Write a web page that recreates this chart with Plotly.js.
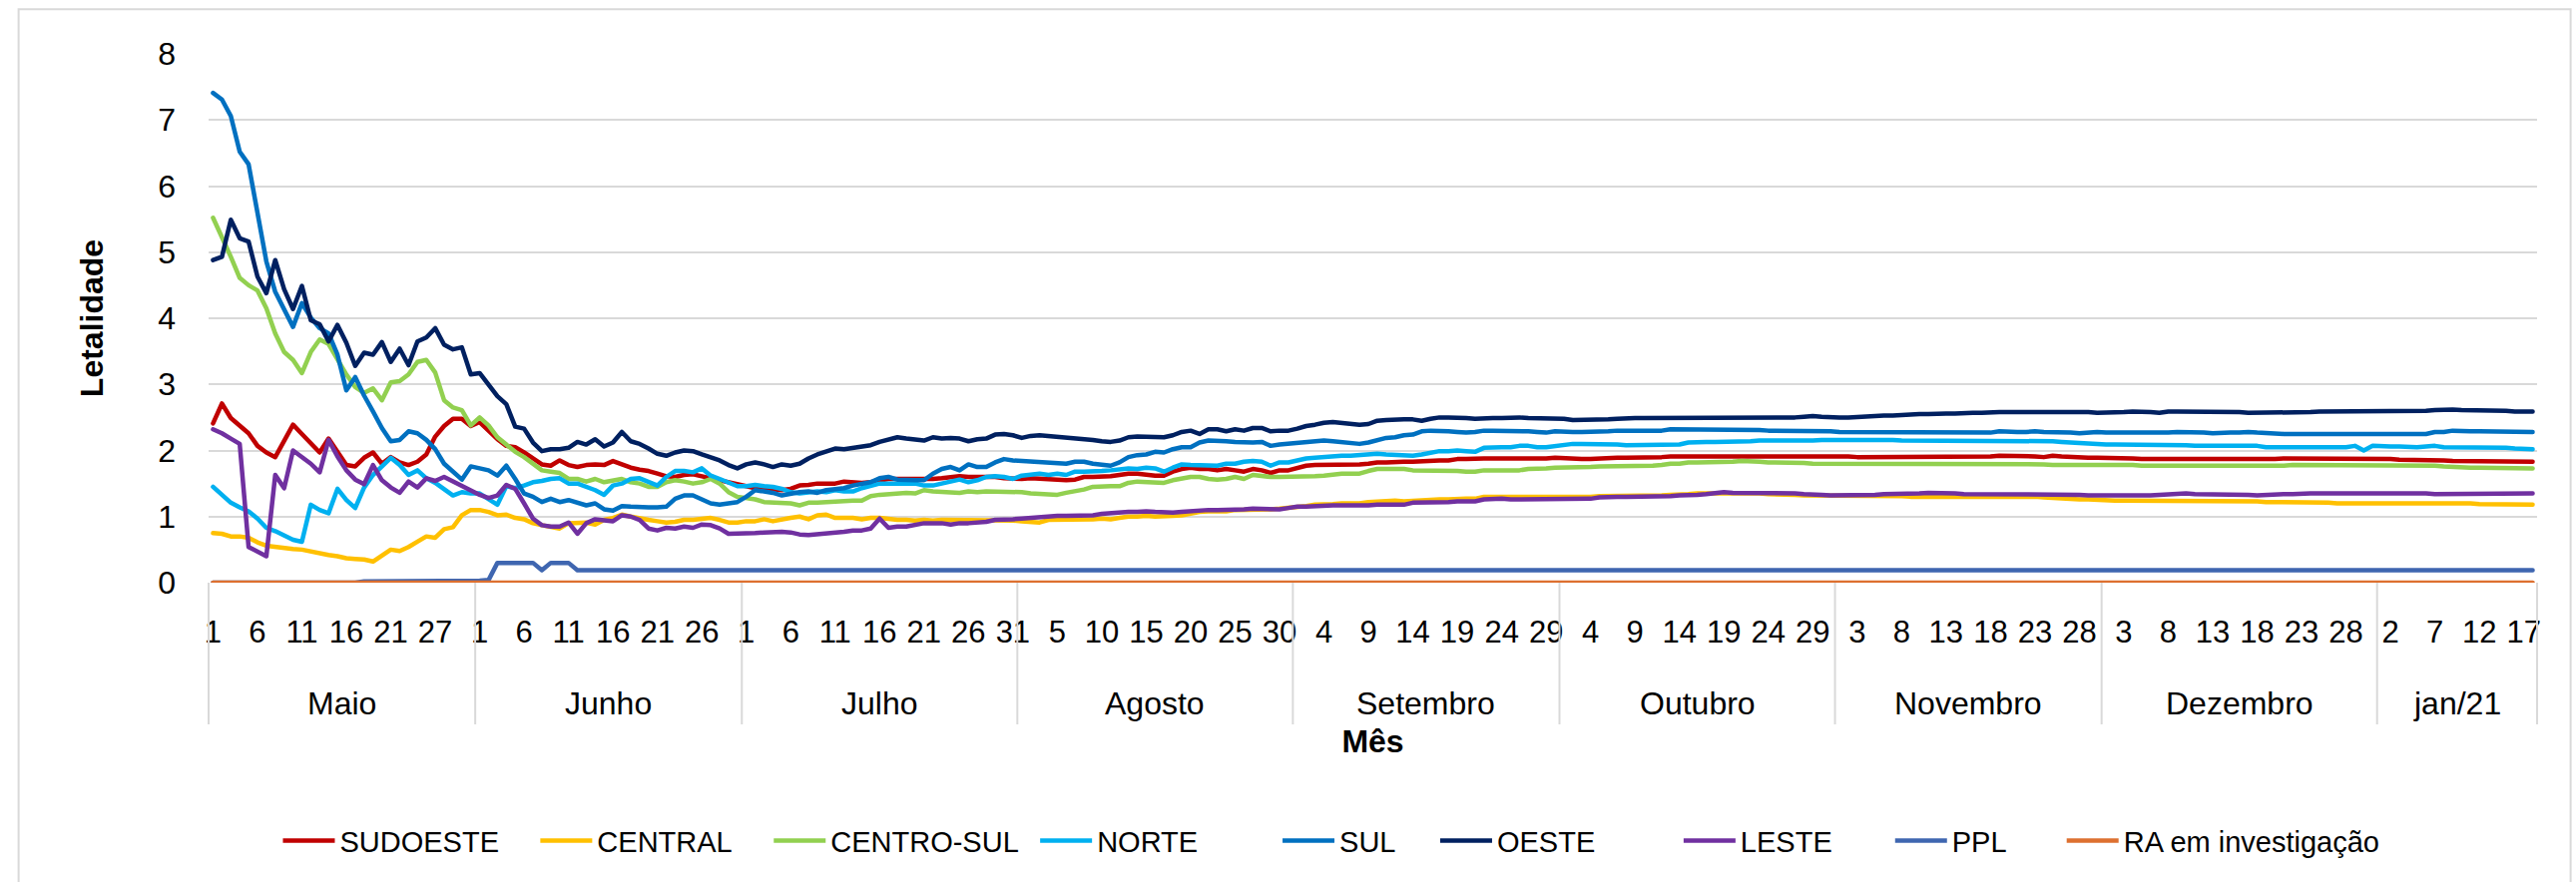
<!DOCTYPE html>
<html><head><meta charset="utf-8">
<script src="https://cdn.plot.ly/plotly-3.0.1.min.js"></script>
<style>
html,body{margin:0;padding:0;background:#fff;}
#chart{width:2581px;height:884px;}
.scatterlayer .js-line{stroke-linejoin:round;stroke-linecap:round;}
</style></head><body><div id="chart"></div>
<script>
// ---- categories ----
const monthNames = ['Maio','Junho','Julho','Agosto','Setembro','Outubro','Novembro','Dezembro','jan/21'];
const daysMaio = [1,2,3,4,5,6,7,8,9,10,11,12,13,14,15,16,17,18,19,20,21,22,23,25,26,27,28,29,30,31];
const daysJunho = [1,2,3,4,5,6,7,8,9,10,11,12,13,14,15,16,17,18,19,20,21,22,23,24,25,26,27,28,29,30];
const daysJulho = [1,2,3,4,5,6,7,8,9,10,11,12,13,14,15,16,17,18,19,20,21,22,23,24,25,26,27,28,29,30,31];
const daysAgosto = [1,2,3,4,5,6,7,8,9,10,11,12,13,14,15,16,17,18,19,20,21,22,23,24,25,26,27,28,29,30,31];
const daysSetembro = [1,2,3,4,5,6,7,8,9,10,11,12,13,14,15,16,17,18,19,20,21,22,23,24,25,26,27,28,29,30];
const daysOutubro = [1,2,3,4,5,6,7,8,9,10,11,12,13,14,15,16,17,18,19,20,21,22,23,24,25,26,27,28,29,30,31];
const daysNovembro = [1,2,3,4,5,6,7,8,9,10,11,12,13,14,15,16,17,18,19,20,21,22,23,24,25,26,27,28,29,30];
const daysDezembro = [1,2,3,4,5,6,7,8,9,10,11,12,13,14,15,16,17,18,19,20,21,22,23,24,25,26,27,28,29,30,31];
const daysJan = [1,2,3,4,5,6,7,8,9,10,11,12,13,14,15,16,17,18];
const monthDays = [daysMaio,daysJunho,daysJulho,daysAgosto,daysSetembro,daysOutubro,daysNovembro,daysDezembro,daysJan];

// ---- series (Letalidade, one value per day) ----
const sudoeste = [
2.41,2.71,2.49,2.37,2.26,2.07,1.97,1.90,2.16,2.39,2.25,2.10,1.97,2.18,1.97,1.78,1.76,1.89,1.97,1.80,1.90,1.82,1.78,1.83,1.94,2.21,2.37,2.48,2.48,2.37,
2.43,2.30,2.17,2.07,2.05,1.97,1.88,1.79,1.77,1.85,1.78,1.75,1.78,1.79,1.78,1.84,1.79,1.74,1.71,1.69,1.65,1.61,1.60,1.63,1.64,1.61,1.58,1.55,1.52,1.48,
1.45,1.43,1.43,1.42,1.40,1.42,1.47,1.48,1.50,1.50,1.50,1.53,1.52,1.51,1.52,1.55,1.57,1.57,1.57,1.56,1.56,1.57,1.58,1.60,1.61,1.60,1.60,1.61,1.60,1.58,1.57,
1.57,1.58,1.57,1.56,1.55,1.55,1.56,1.60,1.60,1.60,1.61,1.63,1.65,1.65,1.63,1.62,1.62,1.68,1.72,1.74,1.72,1.72,1.70,1.72,1.70,1.68,1.72,1.70,1.66,1.70,1.70,
1.74,1.77,1.78,1.78,1.79,1.79,1.79,1.79,1.80,1.82,1.82,1.83,1.83,1.83,1.84,1.85,1.85,1.85,1.87,1.87,1.88,1.88,1.88,1.88,1.87,1.87,1.87,1.87,1.88,1.89,
1.88,1.88,1.87,1.87,1.88,1.88,1.89,1.89,1.89,1.89,1.90,1.90,1.91,1.91,1.91,1.91,1.91,1.91,1.91,1.91,1.91,1.91,1.92,1.92,1.92,1.92,1.92,1.92,1.92,1.92,1.92,
1.91,1.91,1.90,1.90,1.90,1.91,1.91,1.91,1.91,1.91,1.91,1.91,1.91,1.91,1.91,1.91,1.91,1.91,1.92,1.92,1.91,1.91,1.91,1.90,1.92,1.91,1.90,1.89,1.89,1.89,
1.89,1.88,1.88,1.88,1.87,1.87,1.87,1.87,1.87,1.87,1.87,1.87,1.87,1.87,1.86,1.87,1.87,1.87,1.87,1.87,1.88,1.88,1.88,1.88,1.88,1.88,1.88,1.87,1.87,1.87,1.87,
1.87,1.87,1.86,1.86,1.86,1.85,1.85,1.85,1.84,1.84,1.84,1.83,1.83,1.83,1.83,1.83,1.83,1.83];
const central = [
0.75,0.74,0.70,0.70,0.68,0.61,0.56,0.54,0.52,0.51,0.50,0.47,0.45,0.42,0.40,0.37,0.36,0.35,0.32,0.41,0.50,0.48,0.54,0.62,0.70,0.68,0.81,0.84,1.02,1.10,
1.10,1.07,1.02,1.03,0.98,0.96,0.90,0.87,0.85,0.82,0.90,0.91,0.91,0.88,0.95,0.98,1.03,1.00,0.97,0.95,0.93,0.91,0.92,0.95,0.95,0.96,0.98,0.95,0.91,0.91,
0.93,0.93,0.96,0.93,0.96,0.98,1.00,0.96,1.02,1.03,0.98,0.98,0.98,0.96,0.98,0.98,0.96,0.95,0.95,0.94,0.95,0.94,0.95,0.95,0.94,0.95,0.95,0.95,0.95,0.95,0.94,
0.93,0.92,0.91,0.95,0.95,0.95,0.95,0.95,0.96,0.97,0.96,0.98,1.00,1.00,1.01,1.00,1.00,1.01,1.02,1.05,1.07,1.08,1.08,1.08,1.10,1.10,1.11,1.11,1.11,1.12,1.13,
1.15,1.16,1.18,1.18,1.19,1.20,1.20,1.20,1.22,1.23,1.24,1.24,1.23,1.24,1.25,1.26,1.26,1.26,1.27,1.27,1.27,1.30,1.30,1.30,1.30,1.30,1.29,1.29,1.29,1.30,
1.30,1.30,1.30,1.30,1.31,1.31,1.31,1.31,1.31,1.31,1.32,1.32,1.33,1.33,1.34,1.35,1.35,1.36,1.36,1.35,1.35,1.35,1.35,1.34,1.34,1.33,1.33,1.32,1.32,1.31,1.31,
1.31,1.31,1.31,1.31,1.31,1.31,1.31,1.31,1.30,1.30,1.30,1.30,1.31,1.31,1.31,1.31,1.31,1.31,1.31,1.30,1.30,1.30,1.30,1.29,1.28,1.28,1.27,1.26,1.26,1.25,
1.25,1.24,1.24,1.24,1.24,1.23,1.23,1.23,1.23,1.24,1.24,1.23,1.23,1.23,1.23,1.23,1.23,1.23,1.22,1.22,1.22,1.22,1.21,1.21,1.21,1.21,1.20,1.20,1.20,1.20,1.21,
1.21,1.21,1.21,1.21,1.21,1.21,1.21,1.21,1.21,1.20,1.20,1.19,1.19,1.19,1.19,1.18,1.18,1.18];
const centroSul = [
5.52,5.23,4.93,4.61,4.50,4.42,4.15,3.77,3.49,3.37,3.17,3.49,3.68,3.61,3.37,3.15,2.96,2.87,2.94,2.76,3.03,3.05,3.15,3.34,3.37,3.18,2.76,2.65,2.61,2.38,
2.50,2.38,2.20,2.08,1.98,1.90,1.80,1.70,1.68,1.66,1.57,1.57,1.53,1.57,1.52,1.55,1.57,1.52,1.50,1.45,1.45,1.52,1.55,1.53,1.50,1.52,1.57,1.50,1.37,1.30,
1.28,1.26,1.22,1.21,1.21,1.20,1.17,1.21,1.21,1.22,1.23,1.24,1.24,1.24,1.31,1.33,1.34,1.35,1.36,1.35,1.40,1.38,1.37,1.37,1.36,1.38,1.37,1.38,1.38,1.37,1.38,
1.37,1.35,1.34,1.34,1.33,1.36,1.38,1.41,1.45,1.46,1.46,1.46,1.51,1.53,1.52,1.51,1.51,1.55,1.58,1.60,1.60,1.57,1.56,1.57,1.60,1.57,1.63,1.61,1.60,1.60,1.60,
1.61,1.61,1.61,1.62,1.64,1.65,1.65,1.65,1.69,1.72,1.72,1.72,1.72,1.70,1.70,1.70,1.70,1.70,1.69,1.68,1.68,1.70,1.70,1.70,1.70,1.70,1.72,1.72,1.73,1.74,
1.74,1.74,1.75,1.75,1.76,1.76,1.77,1.77,1.77,1.77,1.77,1.78,1.80,1.80,1.82,1.82,1.82,1.82,1.83,1.83,1.84,1.84,1.83,1.82,1.82,1.81,1.81,1.81,1.80,1.80,1.80,
1.80,1.80,1.80,1.80,1.79,1.79,1.79,1.79,1.79,1.79,1.79,1.79,1.79,1.79,1.79,1.79,1.79,1.79,1.80,1.80,1.79,1.79,1.79,1.79,1.78,1.78,1.79,1.79,1.78,1.78,
1.78,1.78,1.78,1.78,1.77,1.77,1.77,1.77,1.76,1.76,1.76,1.76,1.76,1.76,1.76,1.76,1.76,1.76,1.77,1.77,1.77,1.78,1.78,1.78,1.78,1.78,1.78,1.78,1.78,1.78,1.78,
1.78,1.78,1.78,1.78,1.78,1.78,1.77,1.76,1.75,1.75,1.74,1.74,1.74,1.73,1.73,1.73,1.73,1.73];
const norte = [
1.45,1.32,1.21,1.14,1.08,0.97,0.83,0.78,0.72,0.65,0.62,1.18,1.10,1.05,1.42,1.25,1.13,1.44,1.63,1.75,1.89,1.78,1.63,1.70,1.58,1.51,1.42,1.32,1.37,1.35,
1.35,1.27,1.18,1.46,1.43,1.47,1.52,1.54,1.57,1.58,1.50,1.50,1.45,1.40,1.33,1.47,1.50,1.57,1.58,1.52,1.47,1.60,1.69,1.69,1.67,1.73,1.62,1.57,1.52,1.46,
1.46,1.48,1.46,1.45,1.42,1.37,1.35,1.37,1.38,1.37,1.40,1.38,1.38,1.43,1.46,1.50,1.50,1.50,1.51,1.50,1.47,1.47,1.50,1.53,1.56,1.52,1.55,1.60,1.61,1.60,1.57,
1.62,1.63,1.65,1.63,1.65,1.63,1.68,1.68,1.68,1.69,1.70,1.72,1.73,1.72,1.74,1.73,1.68,1.74,1.79,1.78,1.78,1.77,1.77,1.80,1.80,1.83,1.84,1.83,1.77,1.82,1.82,
1.85,1.88,1.89,1.90,1.92,1.92,1.92,1.93,1.94,1.95,1.94,1.93,1.92,1.92,1.94,1.97,1.99,1.99,2.00,1.99,1.98,2.04,2.05,2.05,2.05,2.07,2.07,2.05,2.05,2.07,
2.08,2.10,2.10,2.10,2.10,2.10,2.09,2.08,2.08,2.08,2.08,2.08,2.08,2.09,2.12,2.13,2.13,2.13,2.13,2.14,2.14,2.14,2.15,2.15,2.14,2.15,2.15,2.15,2.15,2.16,2.16,
2.16,2.17,2.17,2.17,2.17,2.17,2.16,2.15,2.15,2.15,2.15,2.15,2.15,2.15,2.15,2.14,2.14,2.14,2.14,2.14,2.14,2.14,2.14,2.15,2.14,2.13,2.12,2.11,2.10,2.10,
2.09,2.09,2.09,2.09,2.09,2.09,2.08,2.08,2.08,2.08,2.07,2.07,2.08,2.08,2.08,2.08,2.07,2.07,2.05,2.05,2.04,2.04,2.04,2.04,2.04,2.04,2.04,2.05,2.07,2.00,2.07,
2.06,2.06,2.06,2.05,2.05,2.06,2.07,2.05,2.05,2.04,2.04,2.05,2.05,2.04,2.04,2.03,2.03,2.02];
const sul = [
7.41,7.31,7.06,6.52,6.33,5.60,4.86,4.40,4.13,3.87,4.23,4.01,3.85,3.77,3.45,2.91,3.11,2.83,2.59,2.34,2.14,2.16,2.29,2.26,2.16,2.02,1.80,1.69,1.56,1.76,
1.73,1.70,1.62,1.77,1.57,1.35,1.30,1.22,1.27,1.22,1.25,1.21,1.17,1.20,1.11,1.09,1.16,1.15,1.14,1.14,1.14,1.15,1.27,1.32,1.32,1.26,1.20,1.18,1.20,1.22,
1.30,1.40,1.38,1.36,1.32,1.35,1.37,1.38,1.36,1.40,1.42,1.43,1.47,1.50,1.52,1.58,1.60,1.56,1.55,1.55,1.55,1.65,1.72,1.75,1.70,1.79,1.75,1.75,1.82,1.87,1.85,
1.84,1.84,1.83,1.82,1.80,1.80,1.83,1.83,1.80,1.79,1.77,1.82,1.90,1.93,1.94,1.98,1.97,2.02,2.05,2.05,2.12,2.15,2.15,2.14,2.13,2.12,2.12,2.13,2.07,2.09,2.10,
2.12,2.13,2.14,2.15,2.14,2.13,2.12,2.10,2.12,2.15,2.19,2.20,2.23,2.24,2.29,2.30,2.30,2.29,2.28,2.27,2.28,2.30,2.30,2.30,2.30,2.30,2.29,2.28,2.27,2.29,
2.28,2.28,2.28,2.28,2.29,2.29,2.30,2.30,2.30,2.30,2.30,2.30,2.32,2.32,2.32,2.32,2.32,2.32,2.32,2.32,2.32,2.32,2.31,2.30,2.30,2.30,2.30,2.30,2.30,2.30,2.29,
2.28,2.28,2.28,2.28,2.28,2.28,2.28,2.28,2.28,2.28,2.28,2.28,2.28,2.28,2.28,2.27,2.27,2.27,2.29,2.28,2.28,2.28,2.29,2.28,2.28,2.28,2.27,2.26,2.27,2.28,
2.27,2.27,2.26,2.26,2.26,2.26,2.27,2.27,2.28,2.28,2.28,2.27,2.26,2.27,2.27,2.27,2.28,2.27,2.26,2.26,2.25,2.25,2.25,2.25,2.25,2.25,2.25,2.25,2.25,2.25,2.24,
2.24,2.24,2.24,2.24,2.24,2.25,2.28,2.28,2.30,2.29,2.29,2.29,2.29,2.29,2.29,2.29,2.29,2.28];
const oeste = [
4.88,4.93,5.49,5.21,5.16,4.63,4.38,4.88,4.44,4.14,4.49,3.97,3.91,3.65,3.90,3.63,3.28,3.48,3.45,3.64,3.34,3.54,3.29,3.65,3.71,3.85,3.60,3.53,3.56,3.15,
3.17,2.99,2.82,2.70,2.36,2.33,2.12,1.99,2.02,2.02,2.04,2.13,2.09,2.17,2.06,2.12,2.28,2.14,2.10,2.03,1.95,1.92,1.97,2.00,1.99,1.94,1.90,1.85,1.78,1.73,
1.79,1.82,1.79,1.75,1.79,1.77,1.80,1.88,1.94,1.99,2.03,2.02,2.04,2.07,2.08,2.13,2.17,2.20,2.18,2.17,2.15,2.20,2.18,2.19,2.18,2.14,2.17,2.18,2.24,2.25,2.23,
2.19,2.22,2.23,2.22,2.20,2.19,2.19,2.18,2.16,2.14,2.13,2.15,2.20,2.21,2.21,2.21,2.20,2.23,2.28,2.30,2.25,2.32,2.32,2.29,2.32,2.30,2.34,2.34,2.29,2.30,2.30,
2.33,2.37,2.39,2.42,2.43,2.42,2.40,2.39,2.40,2.45,2.46,2.47,2.47,2.47,2.45,2.48,2.50,2.50,2.50,2.49,2.48,2.49,2.49,2.49,2.50,2.50,2.49,2.49,2.49,2.48,
2.48,2.46,2.46,2.46,2.47,2.47,2.48,2.49,2.49,2.49,2.49,2.49,2.49,2.49,2.49,2.49,2.49,2.49,2.49,2.49,2.50,2.50,2.50,2.50,2.50,2.50,2.50,2.51,2.52,2.51,2.50,
2.50,2.50,2.51,2.52,2.52,2.53,2.53,2.54,2.54,2.55,2.55,2.56,2.56,2.56,2.57,2.57,2.57,2.58,2.58,2.58,2.58,2.58,2.58,2.58,2.59,2.59,2.59,2.58,2.58,2.57,
2.57,2.58,2.58,2.59,2.59,2.58,2.57,2.59,2.59,2.59,2.59,2.59,2.59,2.59,2.59,2.58,2.57,2.57,2.57,2.57,2.57,2.57,2.58,2.58,2.59,2.59,2.59,2.59,2.59,2.60,2.60,
2.60,2.60,2.60,2.59,2.60,2.60,2.61,2.62,2.62,2.61,2.61,2.61,2.61,2.60,2.60,2.59,2.59,2.59];
const leste = [
2.32,2.26,2.18,2.10,0.54,0.47,0.40,1.63,1.43,2.00,1.91,1.80,1.67,2.16,1.91,1.70,1.56,1.49,1.78,1.55,1.44,1.36,1.53,1.44,1.58,1.54,1.60,1.53,1.47,1.39,
1.33,1.28,1.32,1.48,1.42,1.20,0.97,0.87,0.85,0.85,0.91,0.74,0.90,0.96,0.95,0.93,1.02,1.00,0.95,0.82,0.79,0.83,0.82,0.85,0.83,0.88,0.87,0.82,0.74,0.74,
0.75,0.75,0.76,0.77,0.77,0.76,0.73,0.72,0.73,0.74,0.75,0.77,0.79,0.79,0.82,0.97,0.83,0.85,0.85,0.87,0.90,0.90,0.90,0.88,0.90,0.90,0.91,0.92,0.95,0.95,0.96,
0.97,0.98,1.00,1.00,1.01,1.01,1.01,1.01,1.02,1.04,1.05,1.07,1.07,1.07,1.08,1.07,1.06,1.06,1.07,1.08,1.10,1.10,1.10,1.10,1.10,1.11,1.12,1.12,1.11,1.11,1.13,
1.15,1.15,1.16,1.17,1.17,1.17,1.17,1.16,1.17,1.18,1.18,1.18,1.18,1.21,1.21,1.22,1.22,1.22,1.23,1.23,1.23,1.26,1.27,1.27,1.26,1.26,1.26,1.26,1.26,1.26,
1.26,1.27,1.27,1.27,1.29,1.30,1.30,1.30,1.30,1.30,1.31,1.31,1.31,1.32,1.32,1.33,1.34,1.36,1.37,1.36,1.36,1.35,1.35,1.35,1.35,1.35,1.35,1.34,1.34,1.33,1.32,
1.32,1.32,1.33,1.33,1.33,1.34,1.34,1.34,1.34,1.35,1.36,1.36,1.35,1.35,1.34,1.34,1.34,1.33,1.33,1.33,1.33,1.33,1.34,1.34,1.33,1.33,1.33,1.33,1.32,1.32,
1.31,1.31,1.31,1.31,1.31,1.32,1.33,1.34,1.35,1.35,1.34,1.34,1.34,1.33,1.33,1.33,1.33,1.32,1.33,1.34,1.34,1.34,1.35,1.35,1.35,1.35,1.35,1.36,1.36,1.35,1.35,
1.35,1.35,1.35,1.35,1.35,1.35,1.34,1.34,1.34,1.34,1.34,1.35,1.35,1.35,1.35,1.35,1.35,1.35];
const ppl = [
0,0,0,0,0,0,0,0,0,0,0,0,0,0,0,0,0,0.02,0.02,0.02,0.02,0.02,0.02,0.02,0.02,0.02,0.02,0.02,0.02,0.02,
0.03,0.04,0.30,0.30,0.30,0.30,0.30,0.19,0.30,0.30,0.30,0.19,0.19,0.19,0.19,0.19,0.19,0.19,0.19,0.19,0.19,0.19,0.19,0.19,0.19,0.19,0.19,0.19,0.19,0.19,
0.19,0.19,0.19,0.19,0.19,0.19,0.19,0.19,0.19,0.19,0.19,0.19,0.19,0.19,0.19,0.19,0.19,0.19,0.19,0.19,0.19,0.19,0.19,0.19,0.19,0.19,0.19,0.19,0.19,0.19,0.19,
0.19,0.19,0.19,0.19,0.19,0.19,0.19,0.19,0.19,0.19,0.19,0.19,0.19,0.19,0.19,0.19,0.19,0.19,0.19,0.19,0.19,0.19,0.19,0.19,0.19,0.19,0.19,0.19,0.19,0.19,0.19,
0.19,0.19,0.19,0.19,0.19,0.19,0.19,0.19,0.19,0.19,0.19,0.19,0.19,0.19,0.19,0.19,0.19,0.19,0.19,0.19,0.19,0.19,0.19,0.19,0.19,0.19,0.19,0.19,0.19,0.19,
0.19,0.19,0.19,0.19,0.19,0.19,0.19,0.19,0.19,0.19,0.19,0.19,0.19,0.19,0.19,0.19,0.19,0.19,0.19,0.19,0.19,0.19,0.19,0.19,0.19,0.19,0.19,0.19,0.19,0.19,0.19,
0.19,0.19,0.19,0.19,0.19,0.19,0.19,0.19,0.19,0.19,0.19,0.19,0.19,0.19,0.19,0.19,0.19,0.19,0.19,0.19,0.19,0.19,0.19,0.19,0.19,0.19,0.19,0.19,0.19,0.19,
0.19,0.19,0.19,0.19,0.19,0.19,0.19,0.19,0.19,0.19,0.19,0.19,0.19,0.19,0.19,0.19,0.19,0.19,0.19,0.19,0.19,0.19,0.19,0.19,0.19,0.19,0.19,0.19,0.19,0.19,0.19,
0.19,0.19,0.19,0.19,0.19,0.19,0.19,0.19,0.19,0.19,0.19,0.19,0.19,0.19,0.19,0.19,0.19,0.19];
const raInvestigacao = [
0,0,0,0,0,0,0,0,0,0,0,0,0,0,0,0,0,0,0,0,0,0,0,0,0,0,0,0,0,0,
0,0,0,0,0,0,0,0,0,0,0,0,0,0,0,0,0,0,0,0,0,0,0,0,0,0,0,0,0,0,
0,0,0,0,0,0,0,0,0,0,0,0,0,0,0,0,0,0,0,0,0,0,0,0,0,0,0,0,0,0,0,
0,0,0,0,0,0,0,0,0,0,0,0,0,0,0,0,0,0,0,0,0,0,0,0,0,0,0,0,0,0,0,
0,0,0,0,0,0,0,0,0,0,0,0,0,0,0,0,0,0,0,0,0,0,0,0,0,0,0,0,0,0,
0,0,0,0,0,0,0,0,0,0,0,0,0,0,0,0,0,0,0,0,0,0,0,0,0,0,0,0,0,0,0,
0,0,0,0,0,0,0,0,0,0,0,0,0,0,0,0,0,0,0,0,0,0,0,0,0,0,0,0,0,0,
0,0,0,0,0,0,0,0,0,0,0,0,0,0,0,0,0,0,0,0,0,0,0,0,0,0,0,0,0,0,0,
0,0,0,0,0,0,0,0,0,0,0,0,0,0,0,0,0,0];

const seriesNames = ['SUDOESTE','CENTRAL','CENTRO-SUL','NORTE','SUL','OESTE','LESTE','PPL','RA em investigação'];
const seriesValues = [sudoeste,central,centroSul,norte,sul,oeste,leste,ppl,raInvestigacao];
const seriesColors = ['#C00000','#FFC000','#92D050','#00B0F0','#0070C0','#002060','#7030A0','#3F66B0','#DD7030'];

// ---- build ----
const dayLabels = monthDays.flat();
const xIdx = dayLabels.map((d, i) => i);
const nCat = dayLabels.length;
const tickvals = xIdx.filter(i => i % 5 === 0);
const ticktext = tickvals.map(i => String(dayLabels[i]));

const monthStarts = [];
{ let s = 0; monthDays.forEach(m => { monthStarts.push(s); s += m.length; }); }

const FONT = 'Liberation Sans, Arial, sans-serif';
const legendIds = seriesNames.map((n, k) => k === 0 ? 'legend' : 'legend' + (k + 1));
const traces = seriesNames.map((name, k) => ({
  type: 'scatter', mode: 'lines', name: name,
  x: xIdx, y: seriesValues[k],
  line: { color: seriesColors[k], width: 4.5 },
  legend: legendIds[k],
  hoverinfo: 'skip'
}));

const sepColor = '#D9D9D9';
const shapes = [];
monthStarts.concat([nCat]).forEach(s => {
  shapes.push({ type: 'line', xref: 'paper', yref: 'paper', x0: s / nCat, x1: s / nCat, y0: 0, y1: -0.268,
    line: { color: sepColor, width: 2 } });
});
shapes.push({ type: 'rect', xref: 'paper', yref: 'paper', x0: -0.0816, x1: 1.0144, y0: -0.575, y1: 1.0843,
  line: { color: '#D9D9D9', width: 2 }, fillcolor: 'rgba(0,0,0,0)', layer: 'below' });

const annotations = monthNames.map((m, k) => ({
  text: m, xref: 'x', yref: 'paper',
  x: monthStarts[k] + (monthDays[k].length - 1) / 2, y: -0.2275,
  xanchor: 'center', yanchor: 'middle', showarrow: false,
  font: { family: FONT, size: 32, color: '#000' }
}));

const layout = {
  width: 2581, height: 884,
  margin: { l: 208.5, r: 38.5, t: 54.3, b: 299.6, pad: 0 },
  paper_bgcolor: '#ffffff', plot_bgcolor: '#ffffff',
  font: { family: FONT, color: '#000', size: 32 },
  showlegend: true,
  xaxis: {
    range: [-0.5, nCat - 0.5], tickmode: 'array', tickvals: tickvals, ticktext: ticktext,
    tickangle: 0, showgrid: false, zeroline: false, showline: false, ticks: '',
    tickfont: { family: FONT, size: 31, color: '#000' }, ticklabelstandoff: 28,
    title: { text: '<b>Mês</b>', font: { family: FONT, size: 32, color: '#000' }, standoff: 81 }
  },
  yaxis: {
    range: [0, 8], tick0: 0, dtick: 1, showgrid: true, gridcolor: '#D9D9D9', gridwidth: 2,
    zeroline: false, showline: false, ticks: '',
    tickfont: { family: FONT, size: 32, color: '#000' }, ticklabelstandoff: 32,
    title: { text: '<b>Letalidade</b>', font: { family: FONT, size: 32, color: '#000' }, standoff: 45 }
  },
  shapes: shapes,
  annotations: annotations
};

// legend entries placed individually (pixel start of each entry in the figure)
const legendEntryPx = [285, 543, 777, 1044, 1287, 1445, 1689, 1901, 2073];
const plotLeftPx = 208.5, plotWidthPx = 2334;
legendIds.forEach((id, k) => {
  layout[id] = {
    orientation: 'h', x: (legendEntryPx[k] - 7 - plotLeftPx) / plotWidthPx, xanchor: 'left',
    y: -0.488, yanchor: 'middle',
    font: { family: FONT, size: 29, color: '#000' }, itemwidth: 52,
    bgcolor: 'rgba(0,0,0,0)', borderwidth: 0
  };
});

Plotly.newPlot('chart', traces, layout, { staticPlot: true, displayModeBar: false });
</script></body></html>
